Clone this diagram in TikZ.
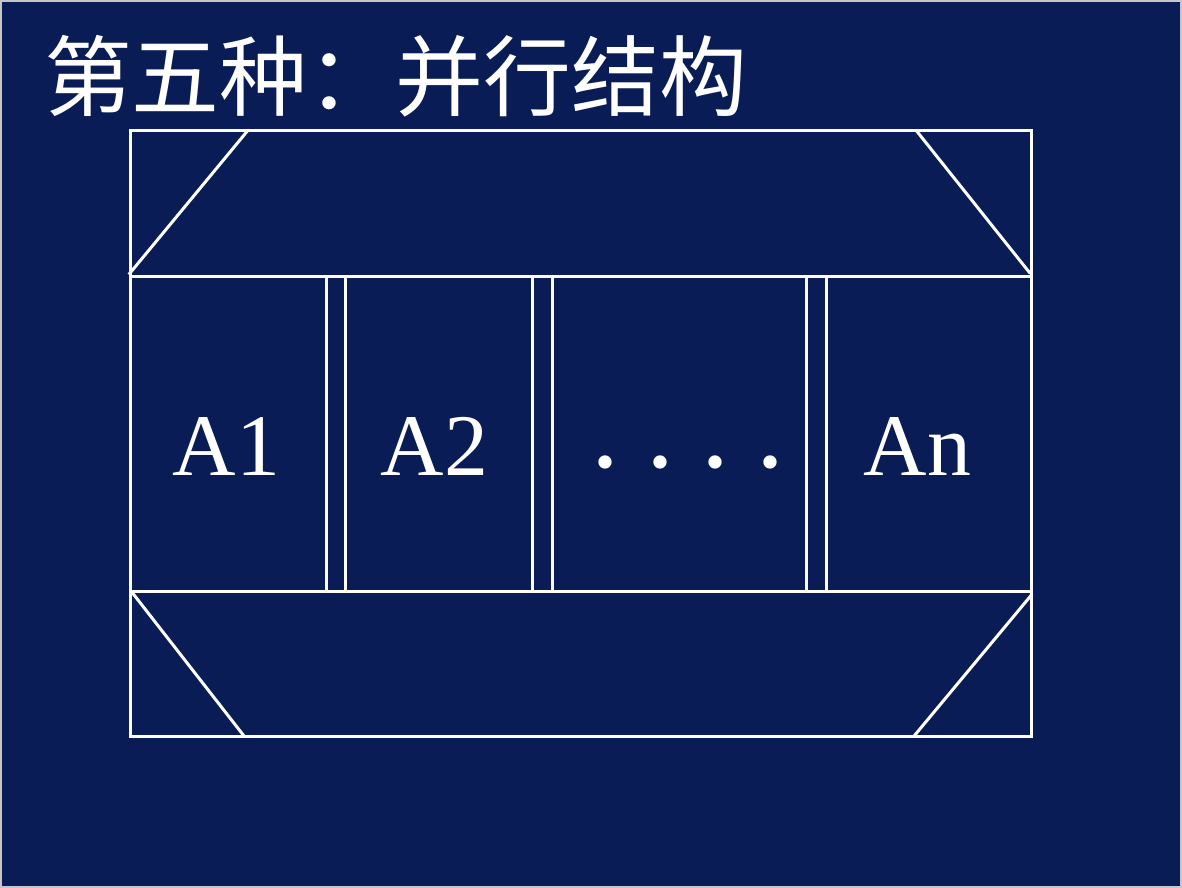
\documentclass[tikz,border=0pt]{standalone}
\usepackage{fontspec}
\setmainfont{Liberation Serif}
\newfontfamily\cjk{Noto Sans CJK SC}
\definecolor{fond}{RGB}{9,28,86}

\begin{document}
\begin{tikzpicture}[x=1pt,y=-1pt,
    trait/.style={white,line width=3pt},
    etiq/.style={white,anchor=base,inner sep=0pt,font=\fontsize{88}{88}\selectfont}]
   \fill[fond,draw=gray!45,line width=2pt] (0,0) rectangle (1182,887);
   \useasboundingbox (0,0) rectangle (1182,887);
   \node[anchor=base west,inner sep=0pt,white,font=\cjk\fontsize{88}{88}\selectfont]
     (titre) at (43,109) {第五种：并行结构};
   \coordinate (hg) at (130,130);
   \coordinate (bd) at (1032,737);
   \draw[trait] (hg) rectangle (bd);
   \draw[trait] (130,276) -- (1032,276) (130,591) -- (1032,591);
   \draw[trait] (128,274) -- (247,130) (917,130) -- (1031,273);  % bloc du haut
   \draw[trait] (131,592) -- (244,737) (1033,594) -- (914,737);  % bloc du bas
   \foreach \x in {326,345,532,552,807,827}
     \draw[trait] (\x,276) -- (\x,591);
   \node[etiq] (a1) at (226,475) {A1};
   \node[etiq] (a2) at (434,475) {A2};
   \node[etiq,font=\fontsize{112}{112}\selectfont] (pts) at (688,467)
     {.\kern27pt.\kern27pt.\kern27pt.};
   \node[etiq] (an) at (918,475) {An};
\end{tikzpicture}
\end{document}
